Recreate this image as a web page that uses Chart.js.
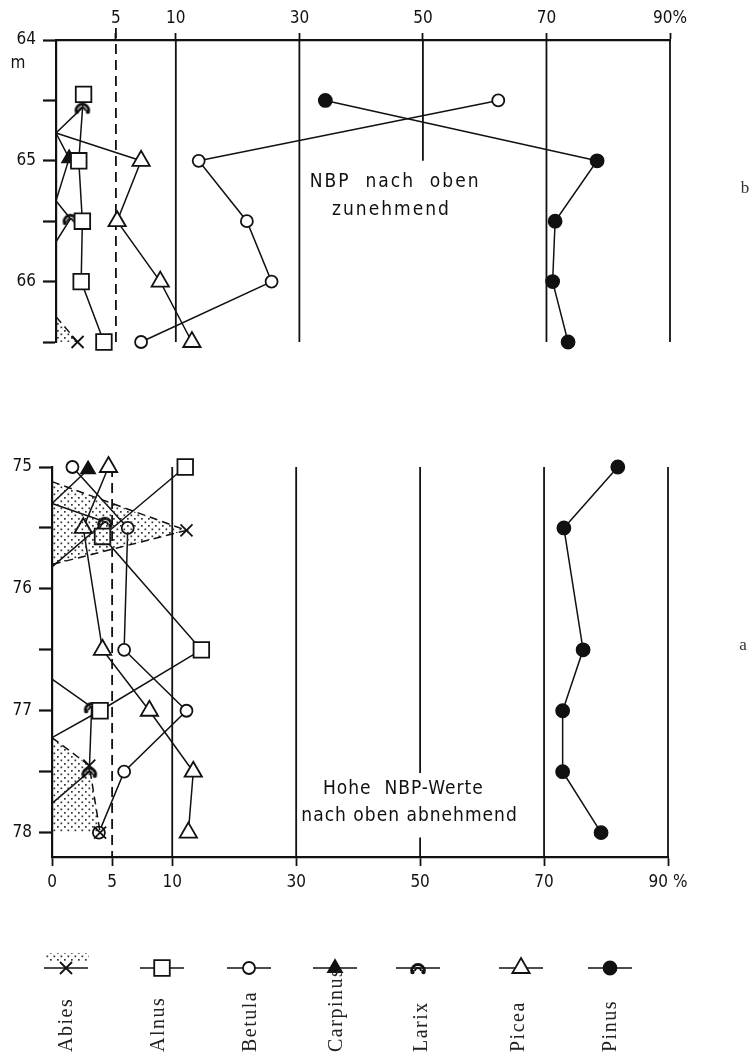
<!DOCTYPE html>
<html>
<head>
<meta charset="utf-8">
<script src="https://cdn.jsdelivr.net/npm/chart.js@4.4.1/dist/chart.umd.min.js"></script>
<style>
  html, body { margin: 0; padding: 0; background: #fff; }
  #wrap { position: relative; width: 752px; height: 1055px; }
  #chartB { position: absolute; left: 0; top: 0; }
  #chartA { position: absolute; left: 0; top: 440px; }
</style>
</head>
<body>
<div id="wrap">
  <canvas id="chartB" width="752" height="360"></canvas>
  <canvas id="chartA" width="752" height="615"></canvas>
</div>
<script>
// ---- data: [depth m, percent]; null = break in the curve ----
const taxa = ['Abies', 'Alnus', 'Betula', 'Carpinus', 'Larix', 'Picea', 'Pinus'];

// profile b (64 - 66.5 m)
const abiesB    = [[66.29, 0], [66.5, 1.8]];
const alnusB    = [[64.45, 2.3], [65, 1.9], [65.5, 2.2], [66, 2.1], [66.5, 4.0]];
const betulaB   = [[64.5, 62.2], [65, 13.7], [65.5, 21.5], [66, 25.5], [66.5, 7.1]];
const carpinusB = [[64.77, 0], [64.98, 1.1], [65.33, 0]];
const larixB    = [[64.56, 2.2], [64.77, 0], null, [65.33, 0], [65.48, 1.2], [65.67, 0]];
const piceaB    = [[64.77, 0], [65, 7.1], [65.5, 5.1], [66, 8.7], [66.5, 12.6]];
const pinusB    = [[64.5, 34.2], [65, 78.2], [65.5, 71.4], [66, 71.0], [66.5, 73.5]];

// profile a (75 - 78.2 m)
const abiesA    = [[75.12, 0], [75.52, 12.3], [75.8, 0], null, [77.22, 0], [77.45, 3.1], [78, 4.0]];
const alnusA    = [[75, 12.1], [75.57, 4.2], [76.5, 14.7], [77, 4.0], [77.22, 0]];
const betulaA   = [[75, 1.7], [75.5, 6.3], [76.5, 6.0], [77, 12.3], [77.5, 6.0], [78, 3.9]];
const carpinusA = [[75.02, 3.0], [75.3, 0]];
const larixA    = [[75.3, 0], [75.45, 4.4], [75.82, 0], null, [76.74, 0], [76.97, 3.3], [77.5, 3.1], [77.76, 0]];
const piceaA    = [[75, 4.7], [75.5, 2.6], [76.5, 4.2], [77, 8.1], [77.5, 13.4], [78, 12.6]];
const pinusA    = [[75, 81.9], [75.5, 73.2], [76.5, 76.3], [77, 73.0], [77.5, 73.0], [78, 79.2]];

const xTicksB = [5, 10, 30, 50, 70, 90];
const xTicksA = [0, 5, 10, 30, 50, 70, 90];
const yTicksB = [64, 64.5, 65, 65.5, 66, 66.5];
const yTicksA = [75, 75.5, 76, 76.5, 77, 77.5, 78];

// vertical reference lines [percent, from depth, to depth]
const gridB = [[5, 64, 66.5], [10, 64, 66.5], [30, 64, 66.5], [50, 64, 65.0], [70, 64, 66.5], [90, 64, 66.5]];
const gridA = [[5, 75, 78.2], [10, 75, 78.2], [30, 75, 78.2], [50, 75, 77.51], [50, 78.04, 78.2], [70, 75, 78.2], [90, 75, 78.2]];

const notesB = [['NBP  nach  oben', 45.5, 65.18], ['zunehmend', 44.9, 65.41]];
const notesA = [['Hohe  NBP-Werte', 47.3, 77.64], ['nach oben abnehmend', 48.3, 77.86]];

const FONT_TICK = "'DejaVu Sans Condensed', 'DejaVu Sans', sans-serif";
const FONT_SERIF = "'Liberation Serif', 'DejaVu Serif', serif";
const INK = '#111';

// 0-10 % is drawn at about double scale
const LOW_STRETCH = 1.94;
class PollenScale extends Chart.LinearScale {
  static id = 'pollen';
  static defaults = Chart.LinearScale.defaults;
  _t(v) { return v <= 10 ? v * LOW_STRETCH : 10 * LOW_STRETCH + (v - 10); }
  getPixelForValue(v) {
    if (v === null || v === undefined || isNaN(v)) return NaN;
    return this.getPixelForDecimal(this._t(v) / this._t(this.max));
  }
  getValueForPixel(p) {
    const t = this.getDecimalForPixel(p) * this._t(this.max);
    return t <= 10 * LOW_STRETCH ? t / LOW_STRETCH : t - 10 * LOW_STRETCH + 10;
  }
}
Chart.register(PollenScale);

// dotted pattern for Abies
const pc = document.createElement('canvas');
pc.width = 7; pc.height = 7;
const pg = pc.getContext('2d');
pg.fillStyle = '#333';
pg.fillRect(1, 1, 1.7, 1.7);
pg.fillRect(4.5, 4.5, 1.7, 1.7);
const dotPattern = document.createElement('canvas').getContext('2d').createPattern(pc, 'repeat');

// larix symbol
const larixImg = document.createElement('canvas');
larixImg.width = 20; larixImg.height = 14;
(function () {
  const g = larixImg.getContext('2d');
  g.strokeStyle = INK; g.lineWidth = 2.8;
  g.beginPath(); g.arc(10, 10, 6.5, Math.PI, 0); g.stroke();
  g.lineWidth = 1.8;
  g.beginPath(); g.arc(10, 10, 3, Math.PI, 0); g.stroke();
  g.fillStyle = INK;
  g.beginPath(); g.arc(4.5, 11, 2.2, 0, 2 * Math.PI); g.fill();
  g.beginPath(); g.arc(15.5, 11, 2.2, 0, 2 * Math.PI); g.fill();
})();

const styles = [
  { style: 'crossRot', r: 8.5, bg: INK },
  { style: 'rect', r: 11, bg: '#fff' },
  { style: 'circle', r: 6, bg: '#fff' },
  { style: 'triangle', r: 8, bg: INK },
  { style: larixImg, r: 8, bg: '#fff' },
  { style: 'triangle', r: 10, bg: '#fff' },
  { style: 'circle', r: 6.5, bg: INK }
];

function toPoints(rows) {
  return rows.map(r => r ? { x: r[1], y: r[0] } : { x: null, y: null });
}

function buildDatasets(series) {
  return taxa.map((name, i) => {
    const st = styles[i];
    return {
      label: name,
      data: toPoints(series[i]),
      borderColor: INK,
      borderWidth: 1.5,
      borderDash: i === 0 ? [8, 5] : [],
      fill: i === 0 ? 'origin' : false,
      backgroundColor: i === 0 ? dotPattern : 'transparent',
      pointStyle: st.style,
      pointRadius: c => (c.raw && c.raw.x > 0) ? st.r : 0,
      pointBackgroundColor: st.bg,
      pointBorderColor: INK,
      pointBorderWidth: 1.8,
      tension: 0,
      clip: false
    };
  });
}

const gridPlugin = {
  id: 'pollenGrid',
  beforeDatasetsDraw(chart, args, opts) {
    const { ctx, scales: { x, y } } = chart;
    ctx.save();
    ctx.strokeStyle = INK;
    ctx.lineWidth = 1.8;
    opts.segments.forEach(([v, d0, d1]) => {
      const px = x.getPixelForValue(v);
      ctx.setLineDash(v === 5 ? [10, 6] : []);
      ctx.beginPath();
      ctx.moveTo(px, y.getPixelForValue(d0) - (v === 5 && opts.top ? 12 : 0));
      ctx.lineTo(px, y.getPixelForValue(d1));
      ctx.stroke();
    });
    ctx.restore();
  }
};

const textPlugin = {
  id: 'pollenText',
  afterDraw(chart, args, opts) {
    const { ctx, scales: { x, y } } = chart;
    ctx.save();
    ctx.fillStyle = INK;
    ctx.textAlign = 'center';
    ctx.textBaseline = 'middle';
    ctx.font = '19px ' + FONT_TICK;
    ctx.letterSpacing = opts.spacing + 'px';
    opts.notes.forEach(([t, v, d]) => ctx.fillText(t, x.getPixelForValue(v), y.getPixelForValue(d)));
    ctx.letterSpacing = '0px';
    (opts.labels || []).forEach(l => {
      ctx.font = l.font;
      ctx.fillStyle = l.color || INK;
      ctx.fillText(l.text, l.x, l.y);
    });
    ctx.restore();
  }
};

const legendX = [66, 162, 249, 335, 418, 521, 610];
const labelX = [67, 159, 251, 337, 422, 519, 611];
const legendPlugin = {
  id: 'pollenLegend',
  afterDraw(chart) {
    const ctx = chart.ctx;
    const rowY = 528, labelBase = 612;
    ctx.save();
    taxa.forEach((name, i) => {
      const cx = legendX[i], st = styles[i];
      ctx.setLineDash([]);
      ctx.strokeStyle = INK;
      ctx.lineWidth = 1.6;
      if (i === 0) {
        ctx.fillStyle = dotPattern;
        ctx.fillRect(cx - 21, rowY - 15, 44, 8);
      }
      ctx.beginPath();
      ctx.moveTo(cx - 22, rowY);
      ctx.lineTo(cx + 22, rowY);
      ctx.stroke();
      ctx.fillStyle = st.bg;
      ctx.lineWidth = 1.8;
      Chart.helpers.drawPoint(ctx, { pointStyle: st.style, radius: st.r, borderWidth: 1.8, rotation: 0 }, cx, rowY);
      ctx.save();
      ctx.translate(labelX[i], labelBase);
      ctx.rotate(-Math.PI / 2);
      ctx.font = '20px ' + FONT_SERIF;
      ctx.letterSpacing = '1.5px';
      ctx.fillStyle = '#222';
      ctx.textAlign = 'left';
      ctx.textBaseline = 'middle';
      ctx.fillText(name, 0, 0);
      ctx.restore();
    });
    ctx.restore();
  }
};

function makeChart(id, o) {
  const tickFont = { family: FONT_TICK, size: 17 };
  return new Chart(document.getElementById(id), {
    type: 'line',
    data: { datasets: buildDatasets(o.series) },
    plugins: o.legend ? [gridPlugin, textPlugin, legendPlugin] : [gridPlugin, textPlugin],
    options: {
      responsive: false,
      animation: false,
      events: [],
      indexAxis: 'y',
      layout: { padding: o.padding },
      plugins: {
        legend: { display: false },
        tooltip: { enabled: false },
        pollenGrid: { segments: o.grid, top: o.xPos === 'top' },
        pollenText: { notes: o.notes, spacing: o.spacing, labels: o.labels }
      },
      scales: {
        x: {
          type: 'pollen',
          position: o.xPos,
          min: 0,
          max: 90,
          afterBuildTicks: s => { s.ticks = o.xTicks.map(v => ({ value: v })); },
          afterFit: s => { s.height = o.xHeight; },
          grid: { drawOnChartArea: false, drawTicks: true, tickLength: o.xTickLen, tickWidth: 1.8, tickColor: INK },
          border: { display: true, color: INK, width: 2.2 },
          ticks: {
            autoSkip: false, maxRotation: 0, padding: o.xPad, color: INK, font: tickFont,
            callback: v => v === 90 ? o.pct : String(v)
          }
        },
        y: {
          type: 'linear',
          reverse: true,
          min: o.yMin,
          max: o.yMax,
          afterBuildTicks: s => { s.ticks = o.yTicks.map(v => ({ value: v })); },
          afterFit: s => { s.width = o.yWidth; },
          grid: { drawOnChartArea: false, drawTicks: true, tickLength: 13, tickWidth: 2.2, tickColor: INK },
          border: { display: true, color: INK, width: 2.2 },
          ticks: {
            autoSkip: false, padding: 7, color: INK, font: tickFont,
            callback: v => Number.isInteger(v) ? String(v) : ''
          }
        }
      }
    }
  });
}

makeChart('chartB', {
  series: [abiesB, alnusB, betulaB, carpinusB, larixB, piceaB, pinusB],
  xTicks: xTicksB, yTicks: yTicksB, yMin: 64, yMax: 66.5,
  xPos: 'top', xHeight: 40, xTickLen: 7, xPad: 4, yWidth: 56, pct: '90%',
  padding: { top: 0, left: 0, right: 82, bottom: 18 },
  grid: gridB, notes: notesB, spacing: 2,
  labels: [
    { text: 'm', x: 18, y: 64, font: '17px ' + FONT_TICK },
    { text: 'b', x: 745, y: 189, font: '17px ' + FONT_SERIF, color: '#333' }
  ]
});

makeChart('chartA', {
  series: [abiesA, alnusA, betulaA, carpinusA, larixA, piceaA, pinusA],
  xTicks: xTicksA, yTicks: yTicksA, yMin: 75, yMax: 78.2,
  xPos: 'bottom', xHeight: 45, xTickLen: 9, xPad: 6, yWidth: 52, pct: '90 %',
  padding: { top: 27, left: 0, right: 84, bottom: 153 },
  grid: gridA, notes: notesA, spacing: 1, legend: true,
  labels: [
    { text: 'a', x: 743, y: 206, font: '17px ' + FONT_SERIF, color: '#333' }
  ]
});
</script>
</body>
</html>
